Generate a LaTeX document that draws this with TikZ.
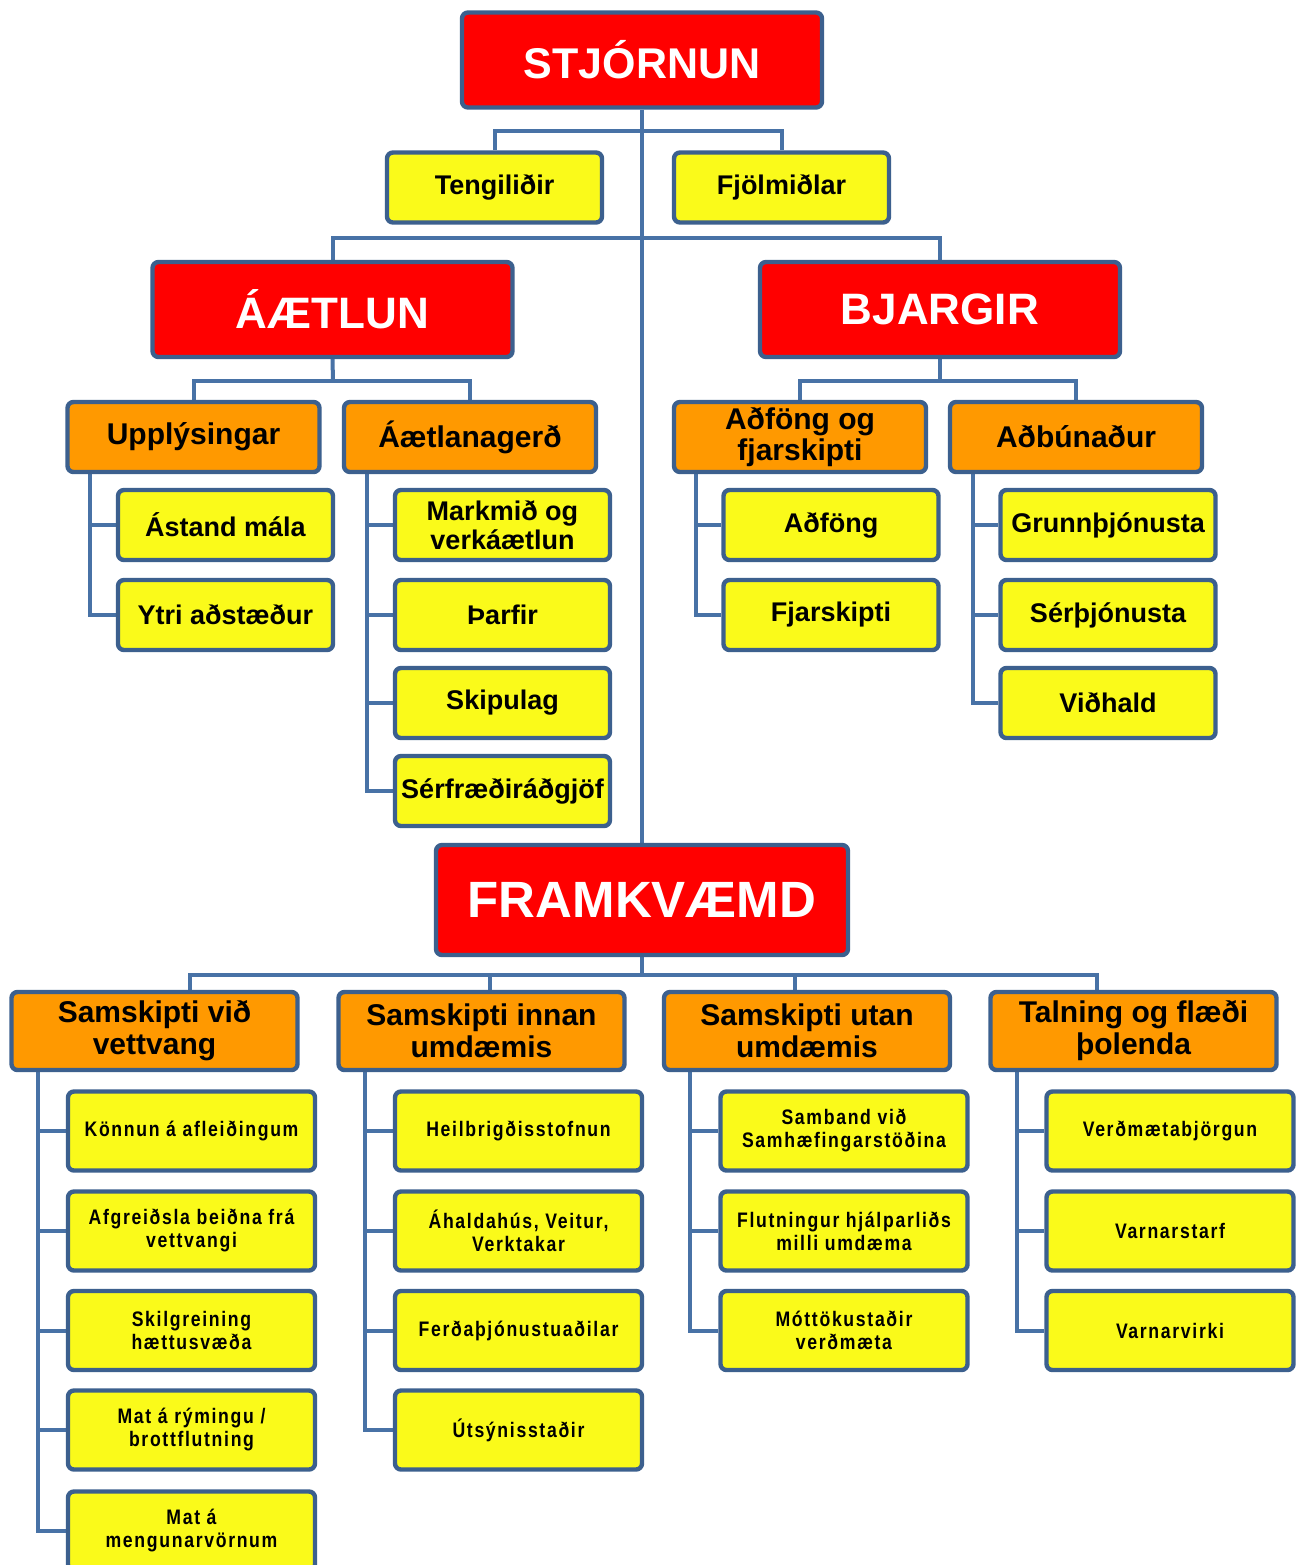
\documentclass[tikz,border=0pt]{standalone}
\usepackage{fontspec}
\setmainfont{Liberation Sans}
\newfontfamily\nbfont{Liberation Sans}[FakeStretch=0.84,LetterSpace=8]
\usetikzlibrary{calc,backgrounds}
\definecolor{bordc}{RGB}{60,96,142}
\definecolor{lnc}{RGB}{72,114,166}
\definecolor{redc}{RGB}{255,0,0}
\definecolor{orc}{RGB}{255,153,0}
\definecolor{yec}{RGB}{250,250,26}
\begin{document}
\begin{tikzpicture}[x=0.5pt,y=-0.5pt,
  basebox/.style={draw=bordc, line width=2.2pt, rounded corners=3pt, inner xsep=1pt, inner ysep=1pt, align=center},
  rbox/.style={basebox, fill=redc, text=white, minimum width=180pt, minimum height=47.5pt},
  tbox/.style={basebox, fill=yec, minimum width=107.5pt, minimum height=35pt, font=\bfseries\fontsize{13.5}{14.5}\selectfont},
  ohead/.style={basebox, fill=orc, minimum width=126pt, minimum height=35pt, font=\bfseries\fontsize{15}{15.5}\selectfont},
  bhead/.style={basebox, fill=orc, minimum width=143pt, minimum height=39pt, font=\bfseries\fontsize{15}{16}\selectfont},
  bchild/.style={basebox, fill=yec, minimum width=123.5pt, minimum height=39.5pt, font=\nbfont\bfseries\fontsize{10.5}{11.5}\selectfont},
  conn/.style={draw=lnc, line width=2pt}]
\useasboundingbox (0,0) rectangle (1302,1565);
\clip (0,0) rectangle (1302,1565);

% top level
\node[rbox, font=\bfseries\fontsize{21.5}{24}\selectfont] (stj) at (642,60) {STJÓRNUN};
\node[tbox] (teng) at (494.5,187.5) {Tengiliðir};
\node[tbox] (fjol) at (781.5,187.5) {Fjölmiðlar};
\node[rbox, font=\bfseries\fontsize{22}{24}\selectfont] (aaet) at (332.5,309.5) {ÁÆTLUN};
\node[rbox, font=\bfseries\fontsize{22}{24}\selectfont] (bjar) at (940,309.5) {BJARGIR};

% orange second level
\node[ohead] (upp) at (193.5,437) {Upplýsingar};
\node[ohead] (aaetl) at (470,437) {Áætlanagerð};
\node[ohead] (adf) at (800,437) {Aðföng og\\fjarskipti};
\node[ohead] (adb) at (1076,437) {Aðbúnaður};

% yellow children upper
\node[tbox] (ast) at (225.5,525) {Ástand mála};
\node[tbox] (ytri) at (225.5,615) {Ytri aðstæður};
\node[tbox] (mark) at (502.5,525) {Markmið og\\verkáætlun};
\node[tbox] (thar) at (502.5,615) {Þarfir};
\node[tbox] (skip) at (502.5,703) {Skipulag};
\node[tbox] (serf) at (502.5,791) {Sérfræðiráðgjöf};
\node[tbox] (adfo) at (831,525) {Aðföng};
\node[tbox] (fjar) at (831,615) {Fjarskipti};
\node[tbox] (grun) at (1108,525) {Grunnþjónusta};
\node[tbox] (serth) at (1108,615) {Sérþjónusta};
\node[tbox] (vidh) at (1108,703) {Viðhald};

% FRAMKVAEMD
\node[rbox, minimum width=206pt, minimum height=55pt, font=\bfseries\fontsize{25.5}{28}\selectfont] (fram) at (642,900) {FRAMKVÆMD};

% bottom orange
\node[bhead] (sv) at (154.5,1031) {Samskipti við\\vettvang};
\node[bhead] (si) at (481.5,1031) {Samskipti innan\\umdæmis};
\node[bhead] (su) at (807,1031) {Samskipti utan\\umdæmis};
\node[bhead] (tal) at (1133.5,1031) {Talning og flæði\\þolenda};

% bottom children
\node[bchild] (a1) at (191.5,1131) {Könnun á afleiðingum};
\node[bchild] (a2) at (191.5,1231) {Afgreiðsla beiðna frá\\vettvangi};
\node[bchild] (a3) at (191.5,1330.5) {Skilgreining\\hættusvæða};
\node[bchild] (a4) at (191.5,1430) {Mat á rýmingu /\\brottflutning};
\node[bchild] (a5) at (191.5,1531) {Mat á\\mengunarvörnum};
\node[bchild] (b1) at (518.5,1131) {Heilbrigðisstofnun};
\node[bchild] (b2) at (518.5,1231) {Áhaldahús, Veitur,\\Verktakar};
\node[bchild] (b3) at (518.5,1330.5) {Ferðaþjónustuaðilar};
\node[bchild] (b4) at (518.5,1430) {Útsýnisstaðir};
\node[bchild] (c1) at (844,1131) {Samband við\\Samhæfingarstöðina};
\node[bchild] (c2) at (844,1231) {Flutningur hjálparliðs\\milli umdæma};
\node[bchild] (c3) at (844,1330.5) {Móttökustaðir\\verðmæta};
\node[bchild] (d1) at (1170,1131) {Verðmætabjörgun};
\node[bchild] (d2) at (1170,1231) {Varnarstarf};
\node[bchild] (d3) at (1170,1330.5) {Varnarvirki};

\coordinate (j1) at (642,131);
\coordinate (j2) at (642,238);
\coordinate (j3) at (333,381);
\coordinate (j4) at (940,381);
\coordinate (j5) at (642,975);

\begin{scope}[on background layer]
\fill[white] (0,0) rectangle (1302,1565);
\draw[conn] (stj.south) -- (fram.north);
\draw[conn] (teng.north) |- (j1) -| (fjol.north);
\draw[conn] (aaet.north) |- (j2) -| (bjar.north);
\draw[conn] (aaet.south) -- (j3);
\draw[conn] (upp.north) |- (j3) -| (aaetl.north);
\draw[conn] (bjar.south) -- (j4);
\draw[conn] (adf.north) |- (j4) -| (adb.north);
\foreach \c in {ast,ytri} \draw[conn] ($(upp.south west)+(25,0)$) |- (\c.west);
\foreach \c in {mark,thar,skip,serf} \draw[conn] ($(aaetl.south west)+(25,0)$) |- (\c.west);
\foreach \c in {adfo,fjar} \draw[conn] ($(adf.south west)+(24,0)$) |- (\c.west);
\foreach \c in {grun,serth,vidh} \draw[conn] ($(adb.south west)+(25,0)$) |- (\c.west);
\draw[conn] (fram.south) -- (j5);
\draw[conn] ($(sv.north)+(35.5,0)$) |- (j5) -| ($(tal.north)+(-36.5,0)$);
\draw[conn] ($(si.north)+(8.5,0)$) |- (j5);
\draw[conn] ($(su.north)+(-12,0)$) |- (j5);
\foreach \c in {a1,a2,a3,a4,a5} \draw[conn] ($(sv.south west)+(29,0)$) |- (\c.west);
\foreach \c in {b1,b2,b3,b4} \draw[conn] ($(si.south west)+(29,0)$) |- (\c.west);
\foreach \c in {c1,c2,c3} \draw[conn] ($(su.south west)+(28,0)$) |- (\c.west);
\foreach \c in {d1,d2,d3} \draw[conn] ($(tal.south west)+(29,0)$) |- (\c.west);
\end{scope}
\end{tikzpicture}
\end{document}
